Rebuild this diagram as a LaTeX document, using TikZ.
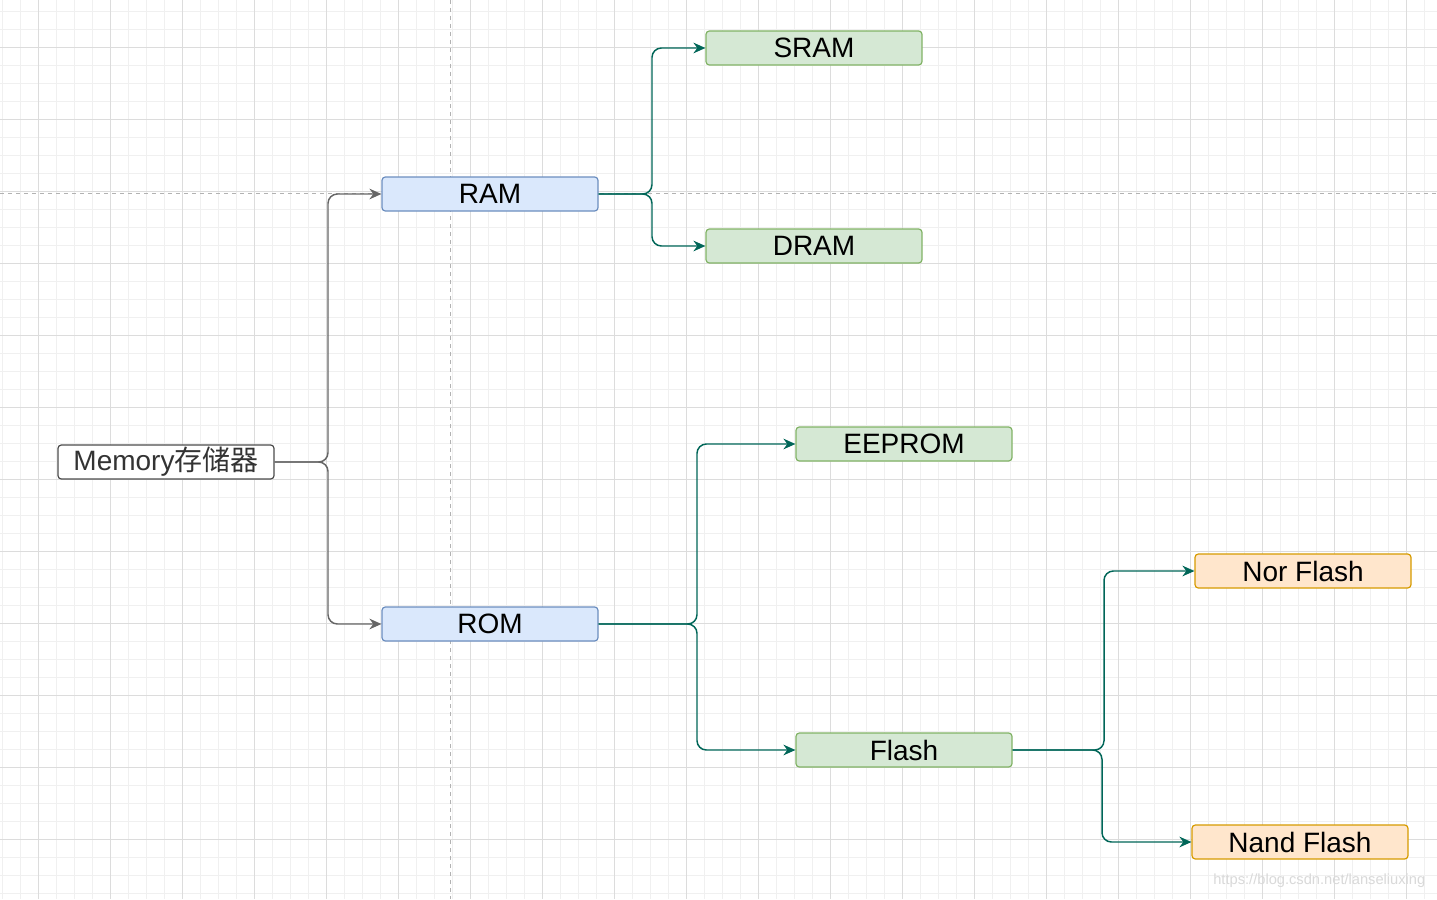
\documentclass[tikz,border=0pt]{standalone}
\usetikzlibrary{arrows.meta}
\usepackage{fontspec}
\setmainfont{Liberation Sans}
\newfontfamily\cjk{Noto Sans CJK SC}
\definecolor{gridmin}{HTML}{F0F0F0}
\definecolor{gridmaj}{HTML}{DCDCDC}
\definecolor{blueF}{HTML}{DAE8FC}\definecolor{blueD}{HTML}{6C8EBF}
\definecolor{greenF}{HTML}{D5E8D4}\definecolor{greenD}{HTML}{82B366}
\definecolor{orF}{HTML}{FFE6CC}\definecolor{orD}{HTML}{D79B00}
\definecolor{teal}{HTML}{006658}
\begin{document}
\begin{tikzpicture}[x=0.75pt,y=-0.75pt,
 box/.style={draw,rounded corners=2.5pt,minimum width=162pt,minimum height=25.5pt,inner sep=0pt,font=\fontsize{21}{21}\selectfont,line width=0.9pt},
 ram/.style={box,fill=blueF,draw=blueD},
 grn/.style={box,fill=greenF,draw=greenD},
 org/.style={box,fill=orF,draw=orD},
 con/.style={line width=1.1pt,rounded corners=7pt,-{Stealth[length=9pt,width=8pt]}},
 tl/.style={con,draw=teal}]
\useasboundingbox (0,0) rectangle (1437,899);
\fill[white] (0,0) rectangle (1437,899);
\foreach \x in {2,20,...,1437} \draw[gridmin,line width=0.6pt] (\x,0)--(\x,899);
\foreach \y in {11,29,...,899} \draw[gridmin,line width=0.6pt] (0,\y)--(1437,\y);
\foreach \x in {38,110,...,1437} \draw[gridmaj,line width=0.6pt] (\x,0)--(\x,899);
\foreach \y in {47,119,...,899} \draw[gridmaj,line width=0.6pt] (0,\y)--(1437,\y);
\draw[gray!60,dashed,line width=0.7pt] (450,0)--(450,899);
\draw[gray!60,dashed,line width=0.7pt] (0,193)--(1437,193);
\node[box,fill=white,draw=black!70,text=black!80] (mem) at (166,462) {Memory{\cjk 存储器}};
\node[ram] (ram) at (490,194) {RAM};
\node[ram] (rom) at (490,624) {ROM};
\node[grn] (sram) at (814,48) {SRAM};
\node[grn] (dram) at (814,246) {DRAM};
\node[grn] (ee) at (904,444) {EEPROM};
\node[grn] (fl) at (904,750) {Flash};
\node[org] (nor) at (1303,571) {Nor Flash};
\node[org] (nand) at (1300,842) {Nand Flash};
\draw[con,draw=black!60] (mem.east) -| (328,330) |- (ram.west);
\draw[con,draw=black!60] (mem.east) -| (328,540) |- (rom.west);
\draw[tl] (ram.east) -| (652,120) |- (sram.west);
\draw[tl] (ram.east) -| (652,220) |- (dram.west);
\draw[tl] (rom.east) -| (697,530) |- (ee.west);
\draw[tl] (rom.east) -| (697,690) |- (fl.west);
\draw[tl] (fl.east) -| (1104,660) |- (nor.west);
\draw[tl] (fl.east) -| (1102,800) |- (nand.west);
\node[text=black!15,font=\fontsize{11}{11}\selectfont,anchor=south east] (wm) at (1430,892) {https://blog.csdn.net/lanseliuxing};
\end{tikzpicture}
\end{document}
